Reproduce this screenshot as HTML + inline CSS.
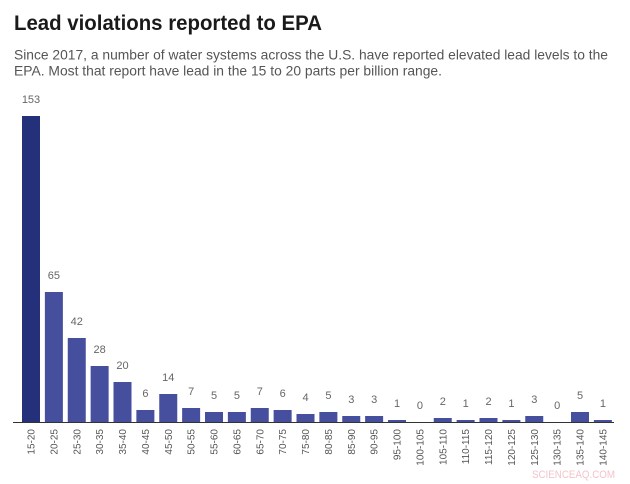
<!DOCTYPE html>
<html>
<head>
<meta charset="utf-8">
<style>
html,body{margin:0;padding:0;background:#fff;}
svg{display:block;}
</style>
</head>
<body>
<svg width="630" height="484" viewBox="0 0 630 484" xmlns="http://www.w3.org/2000/svg" font-family="'Liberation Sans', Arial, sans-serif">
<rect width="630" height="484" fill="#fff"/>
<text x="14" y="30" font-size="21" font-weight="bold" fill="#1a1a1a" textLength="308" lengthAdjust="spacingAndGlyphs">Lead violations reported to EPA</text>
<text x="14" y="59.5" font-size="14" fill="#555" textLength="594" lengthAdjust="spacingAndGlyphs">Since 2017, a number of water systems across the U.S. have reported elevated lead levels to the</text>
<text x="14" y="75.5" font-size="14" fill="#555" textLength="428" lengthAdjust="spacingAndGlyphs">EPA. Most that report have lead in the 15 to 20 parts per billion range.</text>

<g id="bars"></g>
<line x1="13" y1="422.5" x2="614" y2="422.5" stroke="#333" stroke-width="1"/>

<g font-size="11" fill="#666" text-anchor="middle">
<text x="31" y="103">153</text>
<text x="53.875" y="279">65</text>
<text x="76.75" y="325">42</text>
<text x="99.625" y="353">28</text>
<text x="122.5" y="369">20</text>
<text x="145.375" y="397">6</text>
<text x="168.25" y="381">14</text>
<text x="191.125" y="395">7</text>
<text x="214" y="399">5</text>
<text x="236.875" y="399">5</text>
<text x="259.75" y="395">7</text>
<text x="282.625" y="397">6</text>
<text x="305.5" y="401">4</text>
<text x="328.375" y="399">5</text>
<text x="351.25" y="403">3</text>
<text x="374.125" y="403">3</text>
<text x="397" y="407">1</text>
<text x="419.875" y="409">0</text>
<text x="442.75" y="405">2</text>
<text x="465.625" y="407">1</text>
<text x="488.5" y="405">2</text>
<text x="511.375" y="407">1</text>
<text x="534.25" y="403">3</text>
<text x="557.125" y="409">0</text>
<text x="580" y="399">5</text>
<text x="602.875" y="407">1</text>
</g>

<g>
<rect x="22" y="116" width="18" height="306" fill="#24317a"/>
<rect x="44.875" y="292" width="18" height="130" fill="#464e9e"/>
<rect x="67.75" y="338" width="18" height="84" fill="#464e9e"/>
<rect x="90.625" y="366" width="18" height="56" fill="#464e9e"/>
<rect x="113.5" y="382" width="18" height="40" fill="#464e9e"/>
<rect x="136.375" y="410" width="18" height="12" fill="#464e9e"/>
<rect x="159.25" y="394" width="18" height="28" fill="#464e9e"/>
<rect x="182.125" y="408" width="18" height="14" fill="#464e9e"/>
<rect x="205" y="412" width="18" height="10" fill="#464e9e"/>
<rect x="227.875" y="412" width="18" height="10" fill="#464e9e"/>
<rect x="250.75" y="408" width="18" height="14" fill="#464e9e"/>
<rect x="273.625" y="410" width="18" height="12" fill="#464e9e"/>
<rect x="296.5" y="414" width="18" height="8" fill="#464e9e"/>
<rect x="319.375" y="412" width="18" height="10" fill="#464e9e"/>
<rect x="342.25" y="416" width="18" height="6" fill="#464e9e"/>
<rect x="365.125" y="416" width="18" height="6" fill="#464e9e"/>
<rect x="388" y="420" width="18" height="2" fill="#464e9e"/>
<rect x="433.75" y="418" width="18" height="4" fill="#464e9e"/>
<rect x="456.625" y="420" width="18" height="2" fill="#464e9e"/>
<rect x="479.5" y="418" width="18" height="4" fill="#464e9e"/>
<rect x="502.375" y="420" width="18" height="2" fill="#464e9e"/>
<rect x="525.25" y="416" width="18" height="6" fill="#464e9e"/>
<rect x="571" y="412" width="18" height="10" fill="#464e9e"/>
<rect x="593.875" y="420" width="18" height="2" fill="#464e9e"/>
</g>

<g font-size="10" fill="#555" text-anchor="end">
<text transform="translate(31,429) rotate(-90)" dy="0.35em">15-20</text>
<text transform="translate(53.875,429) rotate(-90)" dy="0.35em">20-25</text>
<text transform="translate(76.75,429) rotate(-90)" dy="0.35em">25-30</text>
<text transform="translate(99.625,429) rotate(-90)" dy="0.35em">30-35</text>
<text transform="translate(122.5,429) rotate(-90)" dy="0.35em">35-40</text>
<text transform="translate(145.375,429) rotate(-90)" dy="0.35em">40-45</text>
<text transform="translate(168.25,429) rotate(-90)" dy="0.35em">45-50</text>
<text transform="translate(191.125,429) rotate(-90)" dy="0.35em">50-55</text>
<text transform="translate(214,429) rotate(-90)" dy="0.35em">55-60</text>
<text transform="translate(236.875,429) rotate(-90)" dy="0.35em">60-65</text>
<text transform="translate(259.75,429) rotate(-90)" dy="0.35em">65-70</text>
<text transform="translate(282.625,429) rotate(-90)" dy="0.35em">70-75</text>
<text transform="translate(305.5,429) rotate(-90)" dy="0.35em">75-80</text>
<text transform="translate(328.375,429) rotate(-90)" dy="0.35em">80-85</text>
<text transform="translate(351.25,429) rotate(-90)" dy="0.35em">85-90</text>
<text transform="translate(374.125,429) rotate(-90)" dy="0.35em">90-95</text>
<text transform="translate(397,429) rotate(-90)" dy="0.35em">95-100</text>
<text transform="translate(419.875,429) rotate(-90)" dy="0.35em">100-105</text>
<text transform="translate(442.75,429) rotate(-90)" dy="0.35em">105-110</text>
<text transform="translate(465.625,429) rotate(-90)" dy="0.35em">110-115</text>
<text transform="translate(488.5,429) rotate(-90)" dy="0.35em">115-120</text>
<text transform="translate(511.375,429) rotate(-90)" dy="0.35em">120-125</text>
<text transform="translate(534.25,429) rotate(-90)" dy="0.35em">125-130</text>
<text transform="translate(557.125,429) rotate(-90)" dy="0.35em">130-135</text>
<text transform="translate(580,429) rotate(-90)" dy="0.35em">135-140</text>
<text transform="translate(602.875,429) rotate(-90)" dy="0.35em">140-145</text>
</g>

<text x="532" y="478" font-size="11" fill="#f3c4ca" textLength="83" lengthAdjust="spacingAndGlyphs">SCIENCEAQ.COM</text>
</svg>
</body>
</html>
